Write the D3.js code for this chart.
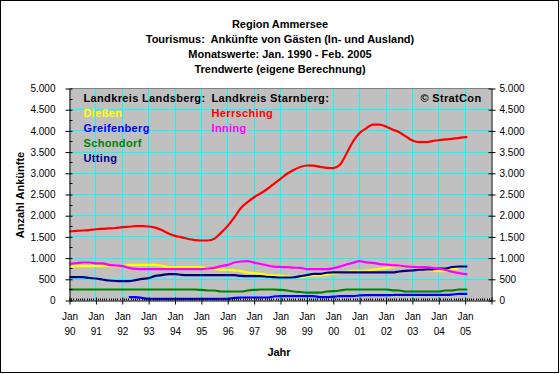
<!DOCTYPE html>
<html>
<head>
<meta charset="utf-8">
<script src="https://cdn.jsdelivr.net/npm/d3@7"></script>
<style>
  html, body { margin: 0; padding: 0; background: #ffffff; }
  svg { display: block; }
  text { font-family: "Liberation Sans", Arial, sans-serif; }
</style>
</head>
<body>
<svg id="chart" width="560" height="374"></svg>
<script>
// ---------- DATA ----------
const titleLines = [
  "Region Ammersee",
  "Tourismus:  Ankünfte von Gästen (In- und Ausland)",
  "Monatswerte: Jan. 1990 - Feb. 2005",
  "Trendwerte (eigene Berechnung)"
];
const yAxisTitle = "Anzahl Ankünfte";
const xAxisTitle = "Jahr";

// month index since Jan 1990 of each sample point (quarterly, plus Feb 2005)
const monthIdx = [0,3,6,9,12,15,18,21,24,27,30,33,36,39,42,45,48,51,54,57,
  60,63,66,69,72,75,78,81,84,87,90,93,96,99,102,105,108,111,114,117,
  120,123,126,129,132,135,138,141,144,147,150,153,156,159,162,165,168,171,174,177,180,181];

const yearTickMonths = [0,12,24,36,48,60,72,84,96,108,120,132,144,156,168,180,192];
const yearLabels = ["90","91","92","93","94","95","96","97","98","99","00","01","02","03","04","05",""];
const yTicks = [0,500,1000,1500,2000,2500,3000,3500,4000,4500,5000];

const diessen = [790,810,810,810,810,810,810,810,810,841,841,841,841,841,820,786,786,786,786,786,
  786,760,740,723,723,710,692,660,645,630,600,590,590,570,555,550,570,590,590,610,
  629,650,680,700,700,705,723,745,763,800,818,802,802,795,720,708,692,692,740,747,null,null];
const greifenberg = [null,null,null,null,null,null,null,null,null,79,79,60,39,39,39,39,39,39,39,39,
  39,39,39,39,39,60,71,71,71,71,71,95,102,102,102,102,102,102,79,79,
  90,102,102,102,120,126,126,126,126,130,134,134,134,134,134,134,134,134,140,157,157,157];
const schondorf = [259,259,259,259,259,259,259,259,259,259,259,259,259,259,259,259,259,259,259,259,
  250,236,236,212,212,212,212,236,250,259,259,259,250,236,212,200,188,188,188,212,
  220,236,259,259,259,259,259,259,259,240,236,212,212,212,212,212,212,236,236,259,259,259];
const utting = [550,550,550,530,519,495,472,460,456,456,480,510,527,582,600,621,621,605,598,598,
  598,598,598,598,598,598,580,574,574,574,560,550,543,543,548,574,598,629,629,655,
  661,661,661,661,661,661,661,661,661,661,684,700,708,725,731,735,755,755,790,802,802,802];
const herrsching = [1627,1640,1651,1660,1680,1690,1700,1710,1729,1740,1752,1752,1745,1720,1660,1580,1525,1490,1450,1425,
  1415,1415,1460,1600,1760,1960,2180,2320,2436,2530,2630,2750,2869,2990,3080,3150,3184,3180,3150,3130,
  3121,3200,3460,3750,3950,4060,4150,4150,4104,4030,3970,3870,3774,3734,3734,3760,3780,3800,3813,3830,3852,3852];
const inning = [865,880,896,896,877,877,841,825,810,770,745,739,739,739,739,739,739,739,739,739,
  739,755,770,810,840,896,920,927,895,860,825,800,790,786,775,770,739,739,739,739,
  760,800,850,890,927,900,888,860,849,830,825,805,795,786,786,770,747,720,680,650,621,621];

const seriesNames  = ["Dießen","Greifenberg","Schondorf","Utting","Herrsching","Inning"];
const seriesValues = [diessen, greifenberg, schondorf, utting, herrsching, inning];
const seriesColors = ["#FFFF00","#0000FF","#008000","#000080","#FF0000","#FF00FF"];

const legendGroupTitles = ["Landkreis Landsberg:", "Landkreis Starnberg:"];
const legendGroups = [["Dießen","Greifenberg","Schondorf","Utting"], ["Herrsching","Inning"]];
const copyright = "© StratCon";

// ---------- LAYOUT ----------
const svg = d3.select("#chart");
const plot = { left: 69.5, right: 491.5, top: 88.5, bottom: 300.5 };

const x = d3.scaleLinear().domain([0, 192]).range([plot.left, plot.right]);
const y = d3.scaleLinear().domain([0, 5000]).range([plot.bottom, plot.top]);
const de = d3.formatLocale({ decimal: ",", thousands: ".", grouping: [3], currency: ["", " €"] });
const fmt = de.format(",");

// outer frame
svg.append("rect").attr("x", 0.5).attr("y", 0.5).attr("width", 558).attr("height", 372)
  .attr("fill", "#ffffff").attr("stroke", "#000000").attr("stroke-width", 1);

// titles
svg.append("g").selectAll("text").data(titleLines).join("text")
  .attr("x", 280).attr("y", (d, i) => 24 + i * 15).attr("dy", "0.35em")
  .attr("text-anchor", "middle").attr("font-size", 11).attr("font-weight", "bold")
  .style("white-space", "pre").attr("xml:space", "preserve")
  .text(d => d);

// plot background
svg.append("rect").attr("x", plot.left).attr("y", plot.top)
  .attr("width", plot.right - plot.left).attr("height", plot.bottom - plot.top)
  .attr("fill", "#C0C0C0");

// gridlines
const grid = svg.append("g").attr("stroke", "#00FFFF").attr("stroke-width", 1);
grid.selectAll("line.h").data(yTicks.filter(v => v > 0 && v < 5000)).join("line")
  .attr("class", "h")
  .attr("x1", plot.left).attr("x2", plot.right)
  .attr("y1", d => Math.round(y(d) - 0.5) + 0.5).attr("y2", d => Math.round(y(d) - 0.5) + 0.5);
grid.selectAll("line.v").data(yearTickMonths.filter(m => m > 0 && m < 192)).join("line")
  .attr("class", "v")
  .attr("y1", plot.top).attr("y2", plot.bottom)
  .attr("x1", d => Math.round(x(d) - 0.5) + 0.5).attr("x2", d => Math.round(x(d) - 0.5) + 0.5);

// top border of plot area (grey)
svg.append("line").attr("x1", plot.left).attr("x2", plot.right)
  .attr("y1", plot.top).attr("y2", plot.top).attr("stroke", "#808080");

// series lines
const line = d3.line()
  .defined(d => d.v !== null)
  .x(d => x(d.m)).y(d => y(d.v))
  .curve(d3.curveMonotoneX);
svg.append("g").selectAll("path").data(seriesValues).join("path")
  .attr("d", vals => line(vals.map((v, i) => ({ m: monthIdx[i], v }))))
  .attr("fill", "none")
  .attr("stroke", (d, i) => seriesColors[i])
  .attr("stroke-width", 2.2)
  .attr("stroke-linejoin", "round");

// left axis
const axL = svg.append("g").attr("transform", `translate(${plot.left},0)`)
  .call(d3.axisLeft(y).tickValues(yTicks).tickFormat(fmt).tickSizeInner(4).tickSizeOuter(0).tickPadding(10));
axL.selectAll(".tick line").attr("x1", 3);
axL.selectAll(".tick text").attr("font-size", 10).attr("fill", "#000").style("font-family", '"Liberation Sans", Arial, sans-serif');
// left minor ticks
svg.append("g").selectAll("line").data(yTicks.slice(0, -1).map(v => v + 250)).join("line")
  .attr("x1", plot.left).attr("x2", plot.left + 3)
  .attr("y1", d => Math.round(y(d) - 0.5) + 0.5).attr("y2", d => Math.round(y(d) - 0.5) + 0.5)
  .attr("stroke", "#000");

// right axis
const axR = svg.append("g").attr("transform", `translate(${plot.right},0)`)
  .call(d3.axisRight(y).tickValues(yTicks).tickFormat(fmt).tickSizeInner(4).tickSizeOuter(0).tickPadding(4));
axR.selectAll(".tick line").attr("x1", -3);
axR.selectAll(".tick text").attr("font-size", 10).attr("fill", "#000").style("font-family", '"Liberation Sans", Arial, sans-serif');

// bottom axis
const axB = svg.append("g").attr("transform", `translate(0,${plot.bottom})`)
  .call(d3.axisBottom(x).tickValues(yearTickMonths).tickFormat(() => "").tickSizeInner(4).tickSizeOuter(0));
axB.selectAll(".tick line").attr("y1", -3);
axB.selectAll(".tick text").remove();
axB.selectAll(".tick").append("text")
  .attr("fill", "#000").attr("font-size", 10).attr("text-anchor", "middle")
  .style("font-family", '"Liberation Sans", Arial, sans-serif')
  .each(function(d, i) {
    if (!yearLabels[i]) return;
    const t = d3.select(this);
    t.append("tspan").attr("x", 0).attr("y", 16).attr("dy", "0.35em").text("Jan");
    t.append("tspan").attr("x", 0).attr("y", 30.5).attr("dy", "0.35em").text(yearLabels[i]);
  });
// monthly minor ticks
svg.append("g").selectAll("line").data(d3.range(1, 192).filter(m => m % 12 !== 0)).join("line")
  .attr("x1", d => Math.round(x(d) - 0.5) + 0.5).attr("x2", d => Math.round(x(d) - 0.5) + 0.5)
  .attr("y1", plot.bottom - 2).attr("y2", plot.bottom)
  .attr("stroke", "#000");

// axis titles
svg.append("text").attr("transform", "translate(20,195) rotate(-90)")
  .attr("text-anchor", "middle").attr("dy", "0.35em")
  .attr("font-size", 11).attr("font-weight", "bold").text(yAxisTitle);
svg.append("text").attr("x", 279).attr("y", 352).attr("dy", "0.35em")
  .attr("text-anchor", "middle").attr("font-size", 11).attr("font-weight", "bold").text(xAxisTitle);

// legend (text inside plot)
const legendX = [83.5, 211.5];
const leg = svg.append("g").attr("font-size", 11).attr("font-weight", "bold").attr("letter-spacing", 0.35);
legendGroupTitles.forEach((t, gi) => {
  leg.append("text").attr("x", legendX[gi]).attr("y", 98.3).attr("dy", "0.35em")
    .attr("fill", "#000").text(t);
  leg.selectAll(null).data(legendGroups[gi]).join("text")
    .attr("x", legendX[gi]).attr("y", (d, i) => 113.3 + i * 15).attr("dy", "0.35em")
    .attr("fill", d => seriesColors[seriesNames.indexOf(d)])
    .text(d => d);
});
leg.append("text").attr("x", 481.5).attr("y", 98.3).attr("dy", "0.35em")
  .attr("text-anchor", "end").attr("fill", "#000").text(copyright);
</script>
</body>
</html>
